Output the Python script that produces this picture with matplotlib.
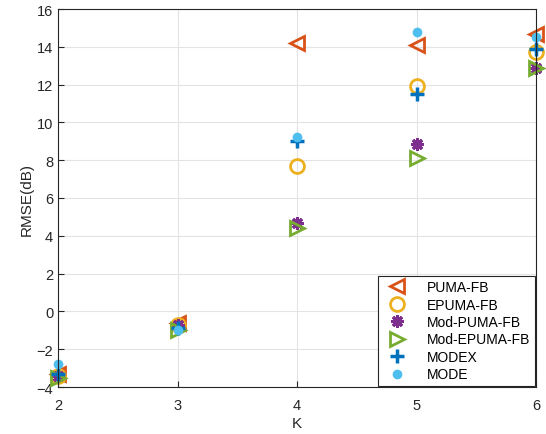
import matplotlib
matplotlib.use('Agg')
import matplotlib.pyplot as plt

plt.rcParams['font.family'] = ['Liberation Sans', 'DejaVu Sans']

K = [2, 3, 4, 5, 6]
puma_fb = [-3.3, -0.6, 14.2, 14.1, 14.7]
epuma_fb = [-3.4, -0.7, 7.7, 11.9, 13.7]
mod_puma_fb = [-3.4, -0.7, 4.7, 8.85, 12.9]
mod_epuma_fb = [-3.5, -1.0, 4.4, 8.1, 12.9]
modex = [-3.3, -0.9, 9.0, 11.5, 13.9]
mode = [-2.8, -1.0, 9.25, 14.8, 14.5]

series = [
    ('PUMA-FB', puma_fb, dict(marker='<', color='#D95319', ms=10, mfc='none', mew=2)),
    ('EPUMA-FB', epuma_fb, dict(marker='o', color='#EDB120', ms=10, mfc='none', mew=2)),
    ('Mod-PUMA-FB', mod_puma_fb, dict(marker=(8, 2, 0), color='#7E2F8E', ms=9, mew=2.2)),
    ('Mod-EPUMA-FB', mod_epuma_fb, dict(marker='>', color='#77AC30', ms=10, mfc='none', mew=2)),
    ('MODEX', modex, dict(marker='+', color='#0072BD', ms=10, mew=2.5)),
    ('MODE', mode, dict(marker='o', color='#4DBEEE', ms=7, mew=0)),
]

fig = plt.figure(figsize=(5.46, 4.35), dpi=100)
ax = fig.add_axes([58 / 546, 1 - 388 / 435, 478 / 546, 378 / 435])

for name, vals, style in series:
    ax.plot(K, vals, linestyle='none', label=name, clip_on=False, **style)

ax.set_xlim(2, 6)
ax.set_ylim(-4, 16)
ax.set_xticks([2, 3, 4, 5, 6])
ax.set_yticks(range(-4, 17, 2))
ax.grid(True, color='#e3e3e3', linewidth=0.8)
ax.set_axisbelow(True)
ax.tick_params(direction='in', labelsize=10.5, colors='#262626', length=4)
ax.tick_params(axis='x', pad=8)
for s in ax.spines.values():
    s.set_color('#262626')
ax.set_xlabel('K', fontsize=11, color='#262626', labelpad=3)
ax.set_ylabel('RMSE(dB)', fontsize=11, color='#262626', labelpad=2)

leg = ax.legend(loc='lower right', fontsize=10, frameon=True, fancybox=False,
                edgecolor='#262626', framealpha=1, borderpad=0.3,
                labelspacing=0.25, handletextpad=1.2, borderaxespad=0.1)
leg.get_frame().set_linewidth(0.8)

fig.savefig('out.png', dpi=100)
